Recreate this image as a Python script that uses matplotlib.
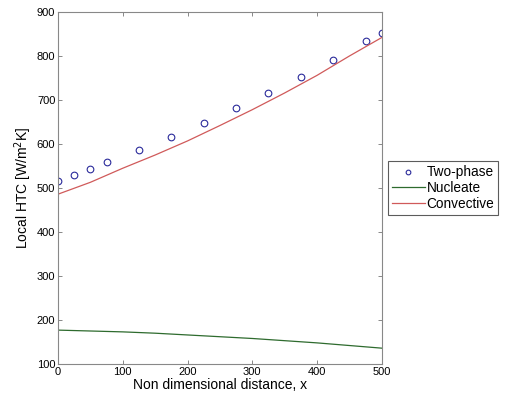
import matplotlib
matplotlib.use('Agg')
import matplotlib.pyplot as plt
import numpy as np

plt.rcParams['font.family'] = ['Liberation Sans', 'DejaVu Sans']

# two-phase measured points
x_tp = [0, 25, 50, 75, 125, 175, 225, 275, 325, 375, 425, 475, 500]
htc_tp = [517, 529, 543, 558, 587, 617, 648, 681, 715, 752, 791, 833, 853]

# model curves
x_line = [0, 50, 100, 150, 200, 250, 300, 350, 400, 450, 500]
htc_conv = [486, 513, 545, 575, 607, 642, 678, 716, 756, 800, 842]
htc_nucl = [177, 175, 173, 170, 166, 162, 158, 153, 148, 142, 136]

fig = plt.figure(figsize=(5.05, 4.0), dpi=100)
ax = fig.add_axes([0.115, 0.09, 0.641, 0.88])

ax.plot(x_tp, htc_tp, 'o', mfc='none', mec='#2b2b9b', ms=4.8, mew=0.8, label='Two-phase')
ax.plot(x_line, htc_nucl, '-', color='#2e6b2e', lw=0.9, label='Nucleate')
ax.plot(x_line, htc_conv, '-', color='#d05a5a', lw=0.9, label='Convective')

ax.set_xlim(0, 500)
ax.set_ylim(100, 900)
ax.set_xticks(np.arange(0, 501, 100))
ax.set_yticks(np.arange(100, 901, 100))
ax.tick_params(direction='in', top=True, right=True, labelsize=8, length=3,
               color='#888888', width=0.7, pad=2)
for s in ax.spines.values():
    s.set_color('#888888')
    s.set_linewidth(0.8)

ax.set_xlabel('Non dimensional distance, x', fontsize=10, labelpad=1)
ax.set_ylabel('Local HTC [W/m$^2$K]', fontsize=10, labelpad=2)

# legend sits outside the axes, right side
leg = ax.legend(loc='center left', bbox_to_anchor=(0.768, 0.53),
                bbox_transform=fig.transFigure, fontsize=9.8, frameon=True,
                fancybox=False, borderpad=0.3, handlelength=2.4,
                handletextpad=0.15, labelspacing=0.12, borderaxespad=0,
                markerscale=0.7)
leg.get_frame().set_edgecolor('#333333')
leg.get_frame().set_linewidth(0.8)

fig.savefig('out.png', dpi=100)
